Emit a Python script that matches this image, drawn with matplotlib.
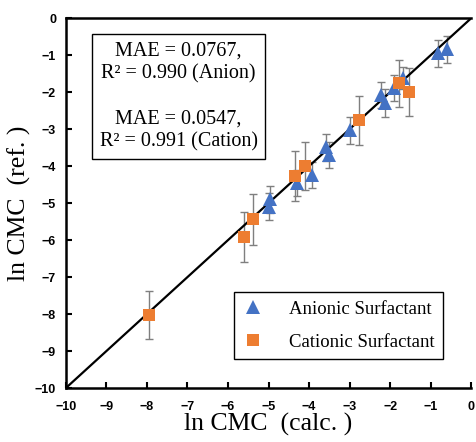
import matplotlib.pyplot as plt
import numpy as np

# anionic surfactants (calc, ref, error)
anion_calc = [-0.83, -0.61, -2.22, -2.12, -1.90, -1.68, -4.29, -3.93,
              -3.59, -3.51, -2.98, -4.97, -5.00]
anion_ref = [-0.95, -0.84, -2.08, -2.30, -1.89, -1.62, -4.46, -4.24,
             -3.49, -3.70, -3.03, -4.90, -5.10]
anion_err = [0.37, 0.36, 0.36, 0.38, 0.35, 0.30, 0.36, 0.36,
             0.36, 0.35, 0.36, 0.36, 0.36]

# cationic surfactants
cation_calc = [-7.95, -5.61, -5.39, -4.34, -4.10, -2.78, -1.78, -1.54]
cation_ref = [-8.03, -5.92, -5.44, -4.27, -3.99, -2.76, -1.76, -2.00]
cation_err = [0.65, 0.67, 0.68, 0.68, 0.65, 0.66, 0.63, 0.65]

stats_text = "MAE = 0.0767,\nR² = 0.990 (Anion)\n\nMAE = 0.0547,\nR² = 0.991 (Cation)"

BLUE = "#4472C4"
ORANGE = "#ED7D31"
GRAY = "#7f7f7f"

fig = plt.figure(figsize=(4.77, 4.42), dpi=100)
ax = fig.add_axes([0.138, 0.122, 0.850, 0.837])

# parity line
ax.plot([-10, 0], [-10, 0], color="black", lw=1.6, zorder=2)

ax.errorbar(anion_calc, anion_ref, yerr=anion_err, fmt="none",
            ecolor=GRAY, elinewidth=1.0, capsize=3, capthick=1.0, zorder=1)
ax.errorbar(cation_calc, cation_ref, yerr=cation_err, fmt="none",
            ecolor=GRAY, elinewidth=1.0, capsize=3, capthick=1.0, zorder=1)

ax.plot(anion_calc, anion_ref, "^", color=BLUE, ms=9.5, mew=0,
        label="Anionic Surfactant", zorder=3)
ax.plot(cation_calc, cation_ref, "s", color=ORANGE, ms=9, mew=0,
        label="Cationic Surfactant", zorder=3)

ax.set_xlim(-10, 0)
ax.set_ylim(-10, 0)
ax.set_xticks(np.arange(-10, 1, 1))
ax.set_yticks(np.arange(-10, 1, 1))
ax.tick_params(direction="in", length=4, width=1.5, labelsize=9)
ax.tick_params(axis="x", pad=9)
ax.tick_params(axis="y", pad=7)
for lab in ax.get_xticklabels() + ax.get_yticklabels():
    lab.set_fontfamily("Liberation Sans")
    lab.set_fontweight("bold")

for side in ["left", "bottom", "top"]:
    ax.spines[side].set_linewidth(1.8)
ax.spines["right"].set_visible(False)

ax.set_xlabel("ln CMC  (calc. )", fontfamily="Liberation Serif", fontsize=18.5, labelpad=0)
ax.set_ylabel("ln CMC  (ref. )", fontfamily="Liberation Serif", fontsize=18.5, labelpad=3)

ax.text(0.278, 0.789, stats_text, transform=ax.transAxes, ha="center", va="center",
        fontfamily="Liberation Serif", fontsize=14.5, linespacing=1.25,
        bbox=dict(boxstyle="square,pad=0.38", fc="white", ec="black", lw=1.0))

leg = ax.legend(loc="lower right", bbox_to_anchor=(0.93, 0.078), frameon=True,
                fancybox=False, edgecolor="black", framealpha=1,
                prop={"family": "Liberation Serif", "size": 13.5},
                handletextpad=1.3, labelspacing=0.85, borderpad=0.45,
                handlelength=1.2, borderaxespad=0)
leg.get_frame().set_linewidth(1.0)

fig.savefig("out.png", dpi=100)
